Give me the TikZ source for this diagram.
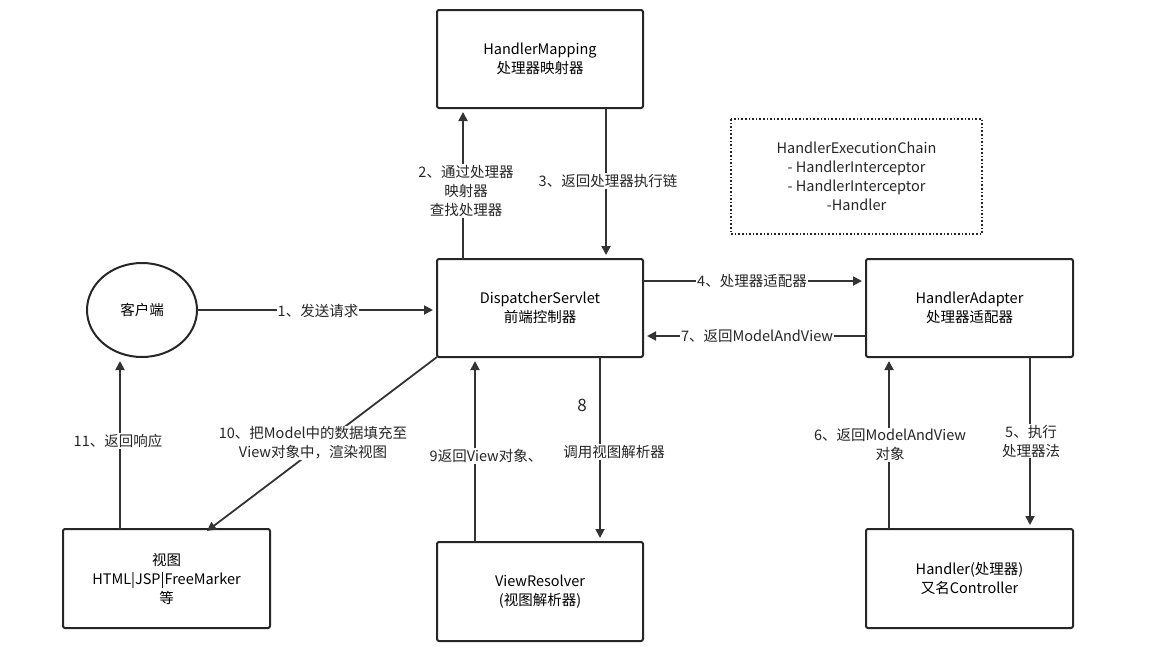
\documentclass[tikz,border=0pt]{standalone}
\usepackage{fontspec}
\setmainfont{Noto Sans CJK SC}
\usetikzlibrary{arrows.meta}
\begin{document}
\begin{tikzpicture}[x=1pt,y=-1pt,
  box/.style={draw=black!85,line width=2pt,rounded corners=2pt,align=center,font=\fontsize{14.5}{19}\selectfont},
  arr/.style={draw=black!80,line width=1.8pt,-{Triangle[length=9pt,width=9pt]}},
  lab/.style={fill=white,inner sep=1pt,align=center,font=\fontsize{14.5}{19}\selectfont,text=black!85}]
\useasboundingbox (0,0) rectangle (1169,670);
\draw[box] (437,10) rectangle (643,108) node[midway] (hmt) {HandlerMapping\\处理器映射器};
\draw[box] (437,259) rectangle (643,357) node[midway] {DispatcherServlet\\前端控制器};
\draw[box] (866,259) rectangle (1073,357) node[midway] {HandlerAdapter\\处理器适配器};
\draw[box] (63,529) rectangle (270,628) node[midway] {视图\\HTML|JSP|FreeMarker\\等};
\draw[box] (437,542) rectangle (643,641) node[midway] {ViewResolver\\(视图解析器)};
\draw[box] (866,529) rectangle (1073,628) node[midway] {Handler(处理器)\\又名Controller};
\draw[black!85,line width=1.6pt,dotted] (731,119) rectangle (982,234)
  node[midway,align=center,font=\fontsize{14.5}{19}\selectfont] (chain) {HandlerExecutionChain\\- HandlerInterceptor\\- HandlerInterceptor\\-Handler};
\draw[black!85,line width=2pt] (142,310) ellipse (55 and 47);
\node[font=\fontsize{14.5}{19}\selectfont] (client) at (142,310) {客户端};
\coordinate (a1) at (197,310); \coordinate (b1) at (433,310);
\coordinate (a2) at (463,259); \coordinate (b2) at (463,112);
\coordinate (a3) at (606,108); \coordinate (b3) at (606,255);
\coordinate (a4) at (643,281); \coordinate (b4) at (862,281);
\coordinate (a5) at (1030,357); \coordinate (b5) at (1030,525);
\coordinate (a6) at (889,529); \coordinate (b6) at (889,361);
\coordinate (a7) at (866,336); \coordinate (b7) at (647,336);
\coordinate (a8) at (600,357); \coordinate (b8) at (600,538);
\coordinate (a9) at (475,542); \coordinate (b9) at (475,361);
\coordinate (a10) at (437,357); \coordinate (b10) at (207,531);
\coordinate (a11) at (120,529); \coordinate (b11) at (120,361);
\draw[arr] (a1) -- (b1);
\draw[arr] (a2) -- (b2);
\draw[arr] (a3) -- (b3);
\draw[arr] (a4) -- (b4);
\draw[arr] (a5) -- (b5);
\draw[arr] (a6) -- (b6);
\draw[arr] (a7) -- (b7);
\draw[arr] (a8) -- (b8);
\draw[arr] (a9) -- (b9);
\draw[arr] (a10) -- (b10);
\draw[arr] (a11) -- (b11);
\node[lab] (l1) at (318,311) {1、发送请求};
\node[lab] (l2) at (466,191) {2、通过处理器\\映射器\\查找处理器};
\node[lab] (l3) at (608,181) {3、返回处理器执行链};
\node[lab] (l4) at (752,281) {4、处理器适配器};
\node[lab] (l5) at (1031,441) {5、执行\\处理器法};
\node[lab] (l6) at (890,445) {6、返回ModelAndView\\对象};
\node[lab] (l7) at (757,336) {7、返回ModelAndView};
\node[lab,font=\fontsize{17}{19}\selectfont] (l8) at (582,405) {8};
\node[lab] (l8b) at (614,452) {调用视图解析器};
\node[lab] (l9) at (486,456) {9返回View对象、};
\node[lab] (l10) at (313,443) {10、把Model中的数据填充至\\View对象中，渲染视图};
\node[lab] (l11) at (118,441) {11、返回响应};
\end{tikzpicture}
\end{document}
